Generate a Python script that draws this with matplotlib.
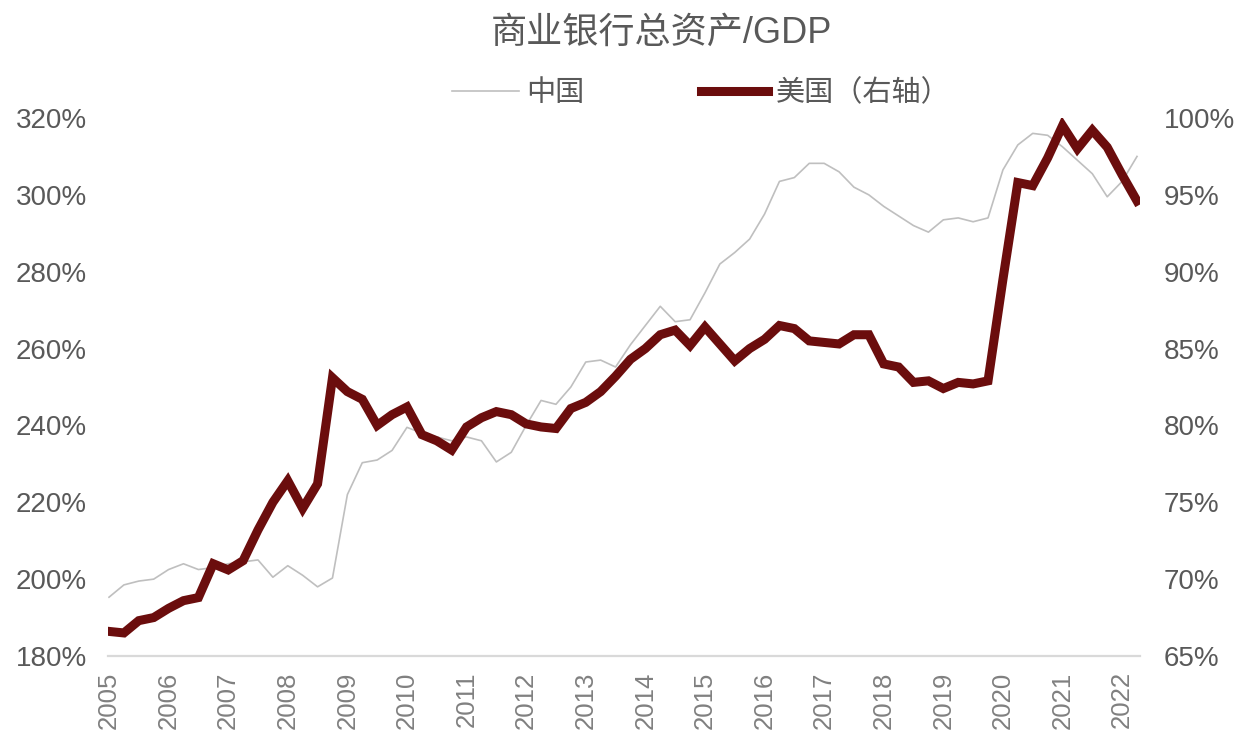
import matplotlib
matplotlib.use("Agg")
import matplotlib.pyplot as plt
from matplotlib.ticker import FuncFormatter

plt.rcParams['font.family'] = ['Liberation Sans', 'Noto Sans CJK SC', 'DejaVu Sans']

# quarterly series, 2005Q1 .. 2022Q2
years = [str(y) for y in range(2005, 2023)]

china = [195.3, 198.5, 199.5, 200.0, 202.5, 204.0, 202.5, 203.0,
         204.0, 204.5, 205.0, 200.5, 203.5, 201.0, 198.0, 200.3,
         222.0, 230.3, 231.0, 233.5, 239.5, 238.0, 237.0, 236.0,
         237.0, 236.0, 230.5, 233.0, 240.0, 246.5, 245.5, 250.0,
         256.5, 257.0, 255.2, 261.0, 266.0, 271.0, 267.0, 267.5,
         274.5, 282.0, 285.0, 288.5, 295.0, 303.5, 304.5, 308.2,
         308.2, 306.0, 302.0, 300.0, 297.0, 294.5, 292.0, 290.3,
         293.5, 294.0, 293.0, 294.0, 306.5, 313.0, 316.0, 315.5,
         312.5, 309.0, 305.5, 299.5, 303.5, 310.0]

usa = [66.6, 66.5, 67.3, 67.5, 68.1, 68.6, 68.8, 71.0,
       70.6, 71.2, 73.2, 75.0, 76.4, 74.6, 76.2, 83.1,
       82.2, 81.7, 80.0, 80.7, 81.2, 79.4, 79.0, 78.4,
       79.9, 80.5, 80.9, 80.7, 80.1, 79.9, 79.8, 81.1,
       81.5, 82.2, 83.2, 84.3, 85.0, 85.9, 86.2, 85.2,
       86.4, 85.3, 84.2, 85.0, 85.6, 86.5, 86.3, 85.5,
       85.4, 85.3, 85.9, 85.9, 84.0, 83.8, 82.8, 82.9,
       82.4, 82.8, 82.7, 82.9, 89.5, 95.8, 95.6, 97.4,
       99.5, 98.0, 99.2, 98.1, 96.3, 94.6]

x = list(range(len(china)))
text_color = '#595959'
year_color = '#808080'
grey = '#BFBFBF'
maroon = '#6B0D0D'

fig = plt.figure(figsize=(12.59, 7.46), dpi=100)
ax = fig.add_axes([107.5 / 1259, 1 - 656 / 746, (1140 - 107.5) / 1259, (656 - 118) / 746])
ax2 = ax.twinx()

l1, = ax.plot(x, china, color=grey, lw=1.2, label='中国')
l2, = ax2.plot(x, usa, color=maroon, lw=6.5, solid_joinstyle='miter', label='美国（右轴）')

ax.set_xlim(-0.1, 69.2)
ax.set_ylim(180, 320)
ax.set_yticks(range(180, 321, 20))
ax2.set_ylim(65, 100)
ax2.set_yticks(range(65, 101, 5))
pct = FuncFormatter(lambda v, _: f'{v:.0f}%')
ax.yaxis.set_major_formatter(pct)
ax2.yaxis.set_major_formatter(pct)

ax.set_xticks(range(0, len(x), 4))
ax.set_xticklabels(years, rotation=90)

for a in (ax, ax2):
    for s in a.spines.values():
        s.set_visible(False)
    a.tick_params(length=0, colors=text_color, labelsize=20)
ax.spines['bottom'].set_visible(True)
ax.spines['bottom'].set_color('#D9D9D9')
ax.spines['bottom'].set_linewidth(1.6)
ax.tick_params(axis='y', pad=15)
ax2.tick_params(axis='y', pad=17)
ax.tick_params(axis='x', pad=11, labelsize=18.5, labelcolor=year_color)

fig.text(661 / 1259, 1 - 33 / 746, '商业银行总资产/GDP', ha='center', va='center',
         fontsize=26, color=text_color)
fig.legend(handles=[l1, l2], loc='center', bbox_to_anchor=(701 / 1259, 1 - 93 / 746),
           ncol=2, frameon=False, fontsize=21, handlelength=2.3, handletextpad=0.25,
           columnspacing=4.0, labelcolor=text_color)

fig.savefig('out.png', dpi=100)
